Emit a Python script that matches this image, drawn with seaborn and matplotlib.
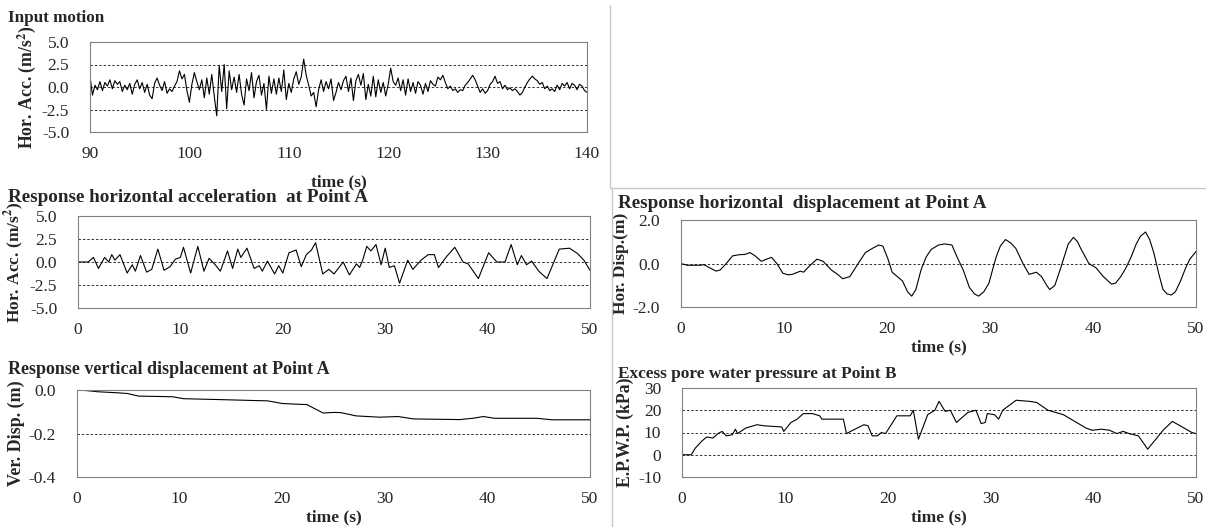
import numpy as np
import seaborn as sns
import matplotlib.pyplot as plt
from matplotlib.lines import Line2D

# input motion, 90-140 s, every 0.25 s
input_acc = [1.2, -0.9, 0.2, -0.3, 0.6, -0.4, 0.5, 0.1, 0.8, -0.2, 0.7, 0.3, 0.6, -0.5, 0.2, -0.3,
             0.4, -0.8, 0.3, 0.8, -0.2, 0.5, -0.6, 0.3, -0.9, -1.3, 0.4, 1.0, 0.2, -0.4, 0.6, -0.7,
             -0.2, -0.5, 0.1, 0.6, 1.8, 0.9, 1.4, -0.4, -1.7, 0.3, 1.6, 0.6, -0.3, 0.8, -1.2, 1.0,
             -0.8, 1.4, -1.0, -3.2, 2.4, -0.5, 2.5, -2.4, 1.8, -0.3, 1.1, -0.6, 1.4, -0.8, -2.0, 0.9,
             -0.4, 1.6, -1.2, 0.6, 1.3, -0.9, 0.4, -2.5, 1.2, -0.7, 0.9, -0.8, 1.0, -0.5, 1.9, -1.4,
             0.4, -0.6, 0.9, 1.7, 0.3, 1.1, 3.1, 1.3, 0.2, -1.0, -0.6, -2.2, -0.3, 0.8, -0.5, 0.6,
             -0.2, 0.9, -1.5, -0.6, 0.5, -0.3, 0.7, 1.2, -0.5, 1.0, -1.5, 0.7, 1.4, 0.2, 1.5, -1.4,
             0.3, -1.0, 1.2, -1.1, 0.8, -0.6, 0.5, -1.0, 0.3, 2.1, 0.6, 0.2, 1.0, -0.4, 0.8, -0.9,
             0.9, -0.5, 0.5, -0.7, 0.6, 0.2, -0.8, 0.4, -0.5, 0.7, 0.3, 0.1, 1.1, 0.8, 1.3, 0.5,
             -0.2, 0.1, -0.4, -0.2, -0.6, -0.3, -0.4, 0.2, 0.5, 0.9, 1.3, 0.8, 0.1, -0.6, -0.2, -0.7,
             -0.4, 0.3, 0.6, 1.2, 0.4, 0.6, -0.2, 0.2, -0.3, -0.1, -0.4, -0.2, -0.5, -0.9, -0.6, 0.0,
             0.5, 0.9, 1.2, 0.9, 0.7, 0.3, 0.5, -0.2, 0.1, -0.4, -0.2, -0.5, 0.2, -0.3, 0.4, 0.1,
             0.5, -0.2, 0.4, 0.2, -0.3, 0.3, 0.1, -0.4, -0.6]
input_t = np.linspace(90, 140, len(input_acc))

# response horizontal acceleration at Point A
acc_t = [0, 1.0, 1.5, 2.0, 2.6, 3.0, 3.3, 3.6, 4.1, 4.8, 5.3, 5.6, 6.1, 6.7, 7.2, 7.8, 8.4, 9.0,
         9.5, 10.0, 10.3, 11.0, 11.7, 12.3, 12.8, 13.4, 13.9, 14.6, 15.1, 15.6, 15.9, 16.5, 17.2,
         17.7, 18.0, 18.5, 19.2, 19.6, 20.0, 20.6, 21.3, 21.8, 22.3, 22.8, 23.2, 23.9, 24.5, 25.0,
         25.9, 26.5, 27.2, 27.5, 27.8, 28.2, 28.6, 29.1, 29.6, 30.0, 30.4, 30.9, 31.4, 32.2, 32.7,
         33.5, 34.2, 34.8, 35.2, 36.0, 36.8, 37.6, 38.1, 39.1, 40.1, 40.9, 41.7, 42.3, 42.9, 43.3,
         43.8, 44.3, 45.0, 45.8, 47.0, 48.0, 48.8, 49.4, 50.0]
acc_a = [0.0, 0.0, 0.5, -0.7, 0.5, 0.0, 0.8, 0.2, 0.8, -1.2, -0.3, -1.0, 0.7, -1.1, -0.8, 1.4,
         -0.9, -0.5, 0.3, 0.5, 1.6, -1.2, 1.7, -1.0, 0.4, -0.3, -1.0, 1.2, -0.7, 1.4, 0.5, 1.5,
         -0.7, -0.4, -1.0, 0.1, -1.3, -0.4, -1.2, 1.0, 1.3, -0.5, 0.8, 1.3, 2.1, -1.3, -0.8, -1.3,
         0.0, -1.4, -0.2, -0.6, 0.2, 1.7, 1.2, 1.9, -0.3, 1.5, -0.6, -0.4, -2.3, 0.2, -0.8,
         0.2, 0.8, 0.8, -0.6, 0.6, 1.6, 0.0, -0.2, -1.8, 1.0, 0.0, 0.0, 1.9, -0.3, 0.7,
         -0.3, 0.1, -1.0, -1.8, 1.4, 1.5, 0.9, 0.2, -0.9]

# response horizontal displacement at Point A
hd_t = [0, 0.6, 1.9, 2.2, 2.8, 3.4, 3.8, 4.4, 5.0, 5.6, 6.2, 6.7, 7.2, 7.8, 8.3, 8.8, 9.3, 9.9,
        10.4, 10.8, 11.6, 11.9, 12.5, 13.2, 13.8, 14.6, 15.2, 15.7, 16.4, 17.2, 17.9, 18.6, 19.2,
        19.6, 20.1, 20.5, 21.0, 21.5, 22.0, 22.4, 22.8, 23.3, 23.8, 24.3, 25.0, 25.6, 26.3, 26.8,
        27.4, 28.0, 28.5, 28.9, 29.4, 29.9, 30.3, 30.6, 31.0, 31.5, 32.0, 32.5, 33.2, 33.8, 34.5,
        35.0, 35.5, 35.8, 36.3, 36.8, 37.2, 37.6, 38.1, 38.5, 38.8, 39.6, 40.3, 41.0, 41.8, 42.2,
        42.7, 43.2, 43.7, 44.2, 44.6, 45.1, 45.5, 45.9, 46.4, 46.8, 47.2, 47.6, 48.0, 48.5, 49.0,
        49.4, 50.0]
hd_a = [0.0, -0.08, -0.08, -0.05, -0.2, -0.35, -0.3, 0.0, 0.35, 0.4, 0.42, 0.5, 0.35, 0.1, 0.2,
        0.28, 0.0, -0.45, -0.52, -0.5, -0.35, -0.4, -0.1, 0.2, 0.1, -0.3, -0.5, -0.7, -0.6, 0.0,
        0.5, 0.7, 0.85, 0.8, 0.2, -0.4, -0.6, -0.8, -1.3, -1.5, -1.2, -0.3, 0.3, 0.65, 0.85, 0.9,
        0.85, 0.3, -0.3, -1.1, -1.4, -1.5, -1.3, -0.9, -0.2, 0.3, 0.8, 1.1, 0.95, 0.7, 0.0, -0.5,
        -0.4, -0.6, -1.0, -1.2, -1.0, -0.3, 0.3, 0.9, 1.2, 1.0, 0.7, 0.0, -0.2, -0.6, -0.95, -0.9,
        -0.6, -0.2, 0.3, 0.9, 1.25, 1.45, 1.1, 0.5, -0.5, -1.2, -1.4, -1.45, -1.3, -0.8, -0.2,
        0.2, 0.55]

# response vertical displacement at Point A
vd_t = [0, 1, 2, 4, 4.9, 6, 9.3, 10.4, 13.8, 18.6, 20, 21.3, 22.4, 23.3, 24, 25, 25.7, 27.2,
        29.5, 31.3, 32.8, 37.3, 38.6, 39.6, 40.7, 44.8, 46.3, 50]
vd_a = [0.0, -0.003, -0.008, -0.013, -0.016, -0.028, -0.031, -0.04, -0.044, -0.05, -0.062,
        -0.065, -0.067, -0.089, -0.106, -0.103, -0.104, -0.119, -0.125, -0.122, -0.133, -0.136,
        -0.13, -0.122, -0.13, -0.13, -0.137, -0.137]

# excess pore water pressure at Point B
pw_t = [0, 0.9, 1.3, 1.9, 2.4, 3.0, 3.5, 3.9, 4.3, 4.9, 5.2, 5.4, 6.2, 7.3, 8.0, 9.7, 9.9, 10.6,
        11.2, 11.8, 12.7, 13.4, 13.6, 15.7, 16.0, 16.4, 17.7, 18.1, 18.5, 19.0, 19.4, 19.8, 20.9,
        22.2, 22.5, 23.0, 23.9, 24.6, 25.0, 25.6, 26.1, 26.7, 27.8, 28.6, 29.1, 29.5, 29.7, 30.4,
        30.8, 31.2, 32.5, 33.8, 34.5, 35.6, 37.1, 39.3, 39.9, 40.8, 41.6, 42.3, 42.9, 43.5, 44.4,
        45.3, 46.8, 47.7, 49.6, 50.0]
pw_a = [0, 0, 3, 6, 8, 7.5, 9.5, 10.5, 8.5, 9, 11.5, 9.5, 12, 13.5, 13, 12.5, 10.5, 14.5, 16,
        18.5, 18.5, 17.5, 16, 16, 9.5, 10.5, 13.5, 13, 8.5, 8.5, 10, 9.5, 17.5, 17.5, 20, 7, 18, 20,
        24, 19.5, 20, 14.5, 19, 20, 14, 14.5, 18.5, 18, 16, 20, 24.5, 24, 23.5, 20, 18, 12, 11,
        11.5, 11, 9.5, 10.5, 9.5, 8.5, 2.5, 11, 15, 10, 9.5]

sns.set_style("white")
plt.rcParams['font.family'] = ['Liberation Serif', 'DejaVu Serif']
plt.rcParams['mathtext.fontset'] = 'stix'

W, H = 1206, 527
fig = plt.figure(figsize=(W / 100, H / 100), dpi=100)


def box(l, t, r, b):
    return fig.add_axes([l / W, 1 - b / H, (r - l) / W, (b - t) / H])


def panel(ax, x, y, xlim, ylim, yticks, fmt, dashes, ylabel, ysize=12.5, xlabel=True, xpad=2):
    sns.lineplot(x=x, y=y, ax=ax, color='black', lw=0.8, sort=False, estimator=None)
    for d in dashes:
        ax.axhline(d, color='#333333', lw=0.7, ls=(0, (2.5, 2)), zorder=0)
    ax.set_xlim(*xlim)
    ax.set_ylim(*ylim)
    ax.set_yticks(yticks)
    ax.set_yticklabels([fmt.format(v) for v in yticks])
    ax.set_xticks(np.linspace(xlim[0], xlim[1], 6))
    ax.set_xticklabels([f"{v:.0f}" for v in np.linspace(xlim[0], xlim[1], 6)])
    ax.tick_params(length=0, labelsize=12.5)
    ax.tick_params(axis='x', pad=10)
    ax.tick_params(axis='y', pad=15)
    for s in ax.spines.values():
        s.set_color('#808080')
        s.set_linewidth(0.8)
    ax.set_ylabel(ylabel, fontsize=ysize, fontweight='bold', labelpad=3)
    ax.set_xlabel("time (s)" if xlabel else "", fontsize=12.5, fontweight='bold', labelpad=xpad)


ax1 = box(90, 42, 587, 132)
panel(ax1, input_t, input_acc, (90, 140), (-5, 5), [-5, -2.5, 0, 2.5, 5], "{:.1f}",
      [-2.5, 0, 2.5], "Hor. Acc. (m/s$^\\mathbf{2}$)", ysize=12.8, xpad=9)

ax2 = box(78, 216, 590, 308)
panel(ax2, acc_t, acc_a, (0, 50), (-5, 5), [-5, -2.5, 0, 2.5, 5], "{:.1f}",
      [-2.5, 0, 2.5], "Hor. Acc. (m/s$^\\mathbf{2}$)", xlabel=False)

ax3 = box(681, 220, 1196, 307)
panel(ax3, hd_t, hd_a, (0, 50), (-2, 2), [-2, 0, 2], "{:.1f}", [0], "Hor. Disp.(m)")

ax4 = box(77, 390, 590, 477)
panel(ax4, vd_t, vd_a, (0, 50), (-0.4, 0), [-0.4, -0.2, 0], "{:.1f}", [-0.2], "Ver. Disp. (m)",
      ysize=13)

ax5 = box(682, 388, 1196, 477)
panel(ax5, pw_t, pw_a, (0, 50), (-10, 30), [-10, 0, 10, 20, 30], "{:.0f}", [0, 10, 20],
      "E.P.W.P. (kPa)", ysize=12.8)

titles = [(8, 18, "Input motion", 12.3),
          (8, 197, "Response horizontal acceleration  at Point A", 13.8),
          (618, 203, "Response horizontal  displacement at Point A", 13.8),
          (8, 370, "Response vertical displacement at Point A", 13),
          (618, 374, "Excess pore water pressure at Point B", 12.4)]
for x, y, s, fs in titles:
    fig.text(x / W, 1 - y / H, s, fontsize=fs, fontweight='bold', ha='left', va='center')

# cell borders
sep = dict(color='#c8c8c8', lw=1.0, transform=fig.transFigure)
fig.add_artist(Line2D([610 / W, 610 / W], [1 - 5 / H, 1 - 188 / H], **sep))
fig.add_artist(Line2D([610 / W, 1], [1 - 188 / H, 1 - 188 / H], **sep))
fig.add_artist(Line2D([612 / W, 612 / W], [1 - 188 / H, 0], **sep))

fig.savefig("out.png", dpi=100)
